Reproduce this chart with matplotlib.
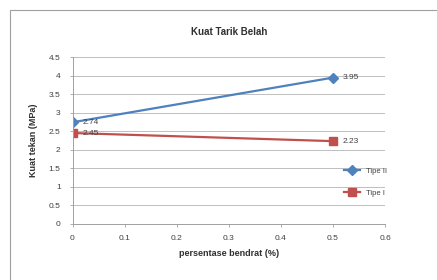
"""
Kuat Tarik Belah chart
"""
import matplotlib

matplotlib.use("Agg")
import matplotlib.pyplot as plt  # noqa:E402
from matplotlib.patches import Rectangle  # noqa:E402

# data
fiber_pct = [0, 0.5]
tipe_2 = [2.74, 3.95]
tipe_1 = [2.45, 2.23]
series_names = ["Tipe II", "Tipe I"]

BLUE = "#4F81BD"
RED = "#C0504D"


def main():
    plt.rcParams.update({"font.family": "Liberation Sans", "font.size": 6})

    fig = plt.figure(figsize=(4.37, 2.80), dpi=100)
    # chart border
    fig.patches.append(
        Rectangle((10 / 437, -0.1), 1.2, 1 - 10 / 280 + 0.1, transform=fig.transFigure,
                  fill=False, edgecolor="#a0a0a0", linewidth=0.8)
    )

    ax = fig.add_axes([72.5 / 437, 1 - 223.5 / 280, (385 - 72.5) / 437, (223.5 - 57.3) / 280])

    ax.plot(fiber_pct, tipe_2, color=BLUE, marker="D", markersize=5, linewidth=1.6,
            label=series_names[0])
    ax.plot(fiber_pct, tipe_1, color=RED, marker="s", markersize=6, linewidth=1.6,
            label=series_names[1])

    for x, y in zip(fiber_pct, tipe_2):
        ax.annotate(f"{y:.2f}", (x, y), xytext=(7, 0), textcoords="offset points",
                    va="center", ha="left", color="#404040")
    for x, y in zip(fiber_pct, tipe_1):
        ax.annotate(f"{y:.2f}", (x, y), xytext=(7, 0), textcoords="offset points",
                    va="center", ha="left", color="#404040")

    ax.set_xlim(0, 0.6)
    ax.set_ylim(0, 4.5)
    ax.set_xticks([0, 0.1, 0.2, 0.3, 0.4, 0.5, 0.6])
    ax.set_xticklabels(["0", "0.1", "0.2", "0.3", "0.4", "0.5", "0.6"])
    ax.set_yticks([0, 0.5, 1, 1.5, 2, 2.5, 3, 3.5, 4, 4.5])
    ax.set_yticklabels(["0", "0.5", "1", "1.5", "2", "2.5", "3", "3.5", "4", "4.5"])
    ax.yaxis.grid(True, color="#bfbfbf", linewidth=0.7)
    ax.set_axisbelow(True)

    for side in ["top", "right"]:
        ax.spines[side].set_visible(False)
    for side in ["left", "bottom"]:
        ax.spines[side].set_color("#a0a0a0")
        ax.spines[side].set_linewidth(0.7)
    ax.tick_params(colors="#404040", length=2.5, width=0.6, pad=6)
    ax.tick_params(axis="x", color="#a0a0a0")
    ax.tick_params(axis="y", color="#a0a0a0")

    ax.set_title("Kuat Tarik Belah", fontsize=7, fontweight="bold", color="#303030", pad=16)
    ax.set_xlabel("persentase bendrat (%)", fontsize=6.5, fontweight="bold", color="#303030",
                  labelpad=5)
    ax.set_ylabel("Kuat tekan (MPa)", fontsize=6.5, fontweight="bold", color="#303030",
                  labelpad=8)

    ax.legend(loc="center right", bbox_to_anchor=(1.03, 0.25), frameon=False,
              handlelength=2.2, labelspacing=1.9, fontsize=5.5, labelcolor="#404040")

    fig.savefig("out.png", dpi=100)
    plt.close(fig)


if __name__ == "__main__":
    main()
